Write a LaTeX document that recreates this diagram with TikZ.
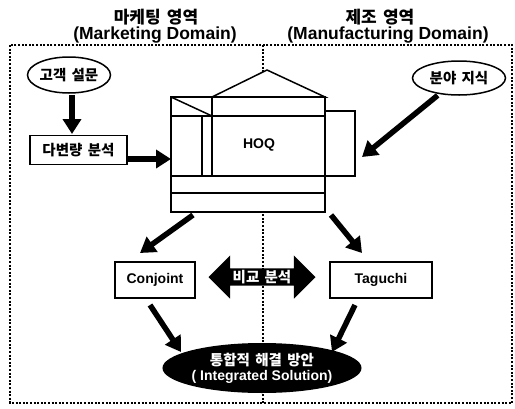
\documentclass[tikz,border=0pt]{standalone}
\usepackage{fontspec}
\setmainfont{Liberation Sans}
\newfontfamily\kr{Noto Sans CJK KR}[WordSpace=1.6]
\usetikzlibrary{arrows.meta}
\usetikzlibrary{shapes.geometric}
\usetikzlibrary{shapes.arrows}

\begin{document}
\begin{tikzpicture}[x=1pt, y=-1pt,
        lbl/.style={font=\fontsize{14}{15}\selectfont\bfseries},
        klbl/.style={font=\fontsize{14.5}{15}\selectfont\kr\bfseries},
        title/.style={font=\fontsize{17.5}{18}\selectfont\bfseries, inner sep=0pt},
        ktitle/.style={font=\fontsize{17}{18}\selectfont\kr\bfseries, inner sep=0pt},
        B/.style={draw, line width=1.5pt, fill=white, minimum height=29pt},
        E/.style={draw, line width=1.5pt, ellipse, fill=white, inner sep=0pt, klbl},
        A/.style={line width=5.5pt, -{Triangle[length=15pt,width=18pt]}},
        D/.style={line width=2pt, dash pattern=on 2pt off 1.6pt},
        H/.style={line width=1.5pt, fill=white}
    ]

    \useasboundingbox (0,0) rectangle (515,408);

    % domains
    \draw[D] (10,45) rectangle (512,403);
    \draw[D] (263,45) -- (263,403);
    \node[ktitle] (mkt) at (156,17) {마케팅 영역};
    \node[title] (mkten) at (155,35) {(Marketing Domain)};
    \node[ktitle] (mfg) at (380,17) {제조 영역};
    \node[title] (mfgen) at (388,35) {(Manufacturing Domain)};

    % house of quality
    \filldraw[H] (212,97) -- (267,70) -- (325,97) -- cycle;
    \filldraw[H] (171,97) rectangle (325,212);
    \filldraw[H] (325,111) rectangle (355,176);
    \draw[H] (171,116) -- (325,116);
    \draw[H] (171,97) -- (212,116);
    \draw[H] (212,97) -- (212,176);
    \draw[H] (202,116) -- (202,176);
    \draw[H] (171,176) -- (325,176);
    \draw[H] (171,193) -- (325,193);
    \node[lbl] (hoq) at (259,145) {HOQ};
    \coordinate (hoqW) at (171,159);
    \coordinate (hoqE) at (362,157);
    \coordinate (hoqSW) at (193,215);
    \coordinate (hoqSE) at (331,215);

    % inputs
    \node[E, minimum width=83pt, minimum height=36pt] (sv) at (69,75) {고객 설문};
    \node[B, klbl, minimum width=97pt] (mv) at (78.5,150) {다변량 분석};
    \node[E, minimum width=93pt, minimum height=34pt] (fk) at (459,78) {분야 지식};

    \draw[A, shorten <=1pt] (sv.south -| 72,0) -- (72,134);
    \draw[A] (mv.east |- hoqW) -- (hoqW);
    \draw[A, shorten <=2pt] (fk) -- (hoqE);

    % methods
    \node[B, lbl, minimum width=80pt, minimum height=36pt] (conj) at (155,280) {Conjoint};
    \node[B, lbl, minimum width=102pt, minimum height=36pt] (tag) at (381,280) {Taguchi};
    \node[double arrow, fill=black, text=white, klbl, minimum height=107pt,
        double arrow head extend=13pt, inner xsep=1pt, inner ysep=1.5pt] (cmp) at (262,277) {비교 분석};
    \coordinate (conjT) at (140,253);
    \coordinate (tagT) at (362,253);
    \coordinate (conjB) at (150,305);
    \coordinate (tagB) at (355,305);

    \draw[A] (hoqSW) -- (conjT);
    \draw[A] (hoqSE) -- (tagT);

    % solution
    \node[ellipse, fill=black, text=white, lbl, align=center, inner sep=0pt,
        minimum width=161pt, minimum height=50pt] (sol) at (262,368)
        {{\kr\fontsize{14.5}{15}\selectfont 통합적 해결 방안}\\( Integrated Solution)};
    \coordinate (solL) at (181,352);
    \coordinate (solR) at (332,352);

    \draw[A] (conjB) -- (solL);
    \draw[A] (tagB) -- (solR);
\end{tikzpicture}
\end{document}
